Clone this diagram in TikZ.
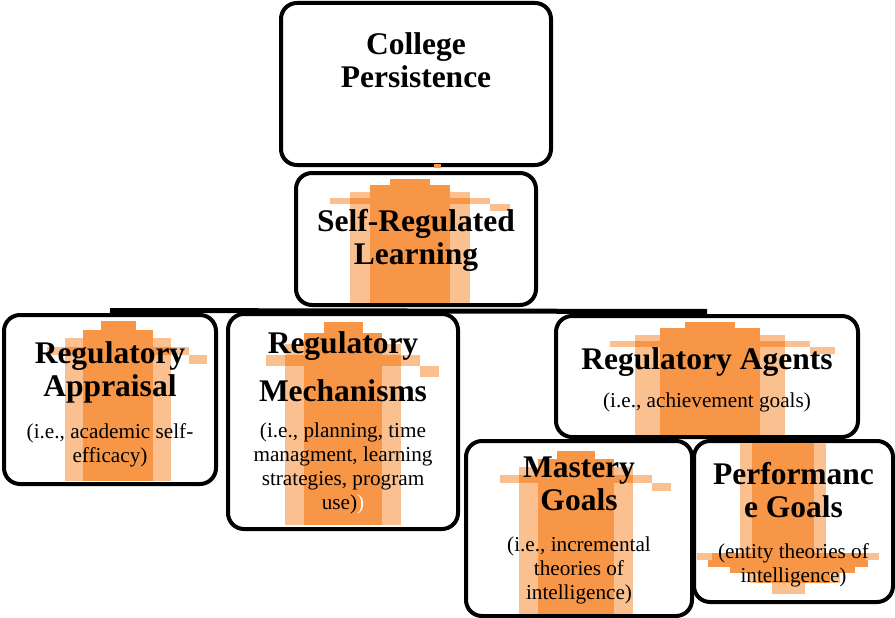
\documentclass[tikz,border=0pt]{standalone}
\usepackage{fontspec}
\setmainfont{Liberation Serif}
\definecolor{ordark}{HTML}{F79646}
\definecolor{orlight}{HTML}{FAC08F}
\tikzstyle{box}=[
    draw, line width=4pt,
    rounded corners=16pt,
    fill=white,
    outer sep=0pt, inner sep=0pt,
]
\tikzstyle{boxtitle}=[anchor=north, inner sep=0pt, align=center,
    font=\bfseries\fontsize{31.5}{33}\selectfont]
\tikzstyle{boxnote}=[anchor=north, inner sep=0pt, align=center,
    font=\fontsize{21.2}{24}\selectfont]
\tikzstyle{link}=[line width=5pt]

% stepped up-arrow: centre x, top y, bottom y, half shaft, half outer shaft, step
\newcommand{\steparrow}[6]{
    \fill[orlight] (#1-#5,#2+2*#6) rectangle (#1+#5,#3);
    \fill[ordark] (#1-#4,#2+#6) rectangle (#1+#4,#3);
    \fill[ordark] (#1-#4/2,#2) rectangle (#1+#4/2,#2+#6);
    \fill[orlight] (#1-2*#5+#4,#2+3*#6) rectangle (#1+2*#5-#4,#2+4*#6);
    \fill[ordark] (#1-#5,#2+3*#6) rectangle (#1+#5,#2+4*#6);
    \fill[orlight] (#1+2*#5-#4,#2+4*#6) rectangle (#1+3*#5-2*#4,#2+5*#6);
}

\begin{document}
\begin{tikzpicture}[x=1pt, y=-1pt]
    \useasboundingbox (0,0) rectangle (895,618);
    % frames
    \node[box, minimum width=270, minimum height=162] (cp) at (416,84) {};
    \node[box, minimum width=240, minimum height=132] (srl) at (416,239) {};
    \node[box, minimum width=212, minimum height=169] (appraisal) at (110,399.5) {};
    \node[box, minimum width=230, minimum height=215] (mechanisms) at (343,421.5) {};
    \node[box, minimum width=302, minimum height=121] (agents) at (707,376.5) {};
    \node[box, minimum width=226, minimum height=175] (mastery) at (579,528.5) {};
    \node[box, minimum width=199, minimum height=161] (performance) at (793.5,521.5) {};
    \fill[ordark] (434,164) rectangle (441,168);

    % bar under the self-regulated learning frame
    \coordinate (barR) at ([yshift=4.5pt]agents.north);
    \draw[link] ([yshift=4.5pt]appraisal.north) -- (barR);

    % arrows
    \steparrow{410}{179}{303}{40}{60}{6.3}
    \steparrow{118}{321}{481}{35}{53}{8.5}
    \steparrow{343}{322}{525}{39}{58}{11}
    \steparrow{710}{322}{435}{50}{75}{6.3}
    \steparrow{576}{451}{614}{38}{57}{8}
    % down arrow in the performance frame
    \fill[orlight] (740,443) rectangle (826,553);
    \fill[ordark] (752,443) rectangle (814,553);
    \fill[orlight] (697,553) rectangle (879,560);
    \fill[ordark] (712,553) rectangle (866,560);
    \fill[ordark] (708,560) rectangle (868,567);
    \fill[ordark] (730,567) rectangle (855,573);
    \fill[orlight] (750,573) rectangle (840,583);
    \fill[ordark] (758,573) rectangle (830,583);
    \fill[orlight] (772,583) rectangle (805,594);

    % labels
    \node[boxtitle] (cpText) at (416,32) {College\\Persistence};
    \node[boxtitle] (srlText) at (416,209) {Self-Regulated\\Learning};
    \node[boxtitle] (appraisalText) at (110,341) {Regulatory\\Appraisal};
    \node[boxnote] (appraisalNote) at (110,423) {(i.e., academic self-\\efficacy)};
    \node[boxtitle, font=\bfseries\fontsize{31.5}{48}\selectfont] (mechanismsText) at (343,331) {Regulatory\\Mechanisms};
    \node[boxnote] (mechanismsNote) at (343,423) {(i.e., planning, time\\managment, learning\\strategies, program\\use)\textcolor{white}{)}};
    \node[boxtitle] (agentsText) at (707,347) {Regulatory Agents};
    \node[boxnote] (agentsNote) at (707,393) {(i.e., achievement goals)};
    \node[boxtitle] (masteryText) at (579,457) {Mastery\\Goals};
    \node[boxnote] (masteryNote) at (579,537) {(i.e., incremental\\theories of\\intelligence)};
    \node[boxtitle] (performanceText) at (793.5,462) {Performanc\\e Goals};
    \node[boxnote] (performanceNote) at (793.5,543) {(entity theories of\\intelligence)};
\end{tikzpicture}
\end{document}
